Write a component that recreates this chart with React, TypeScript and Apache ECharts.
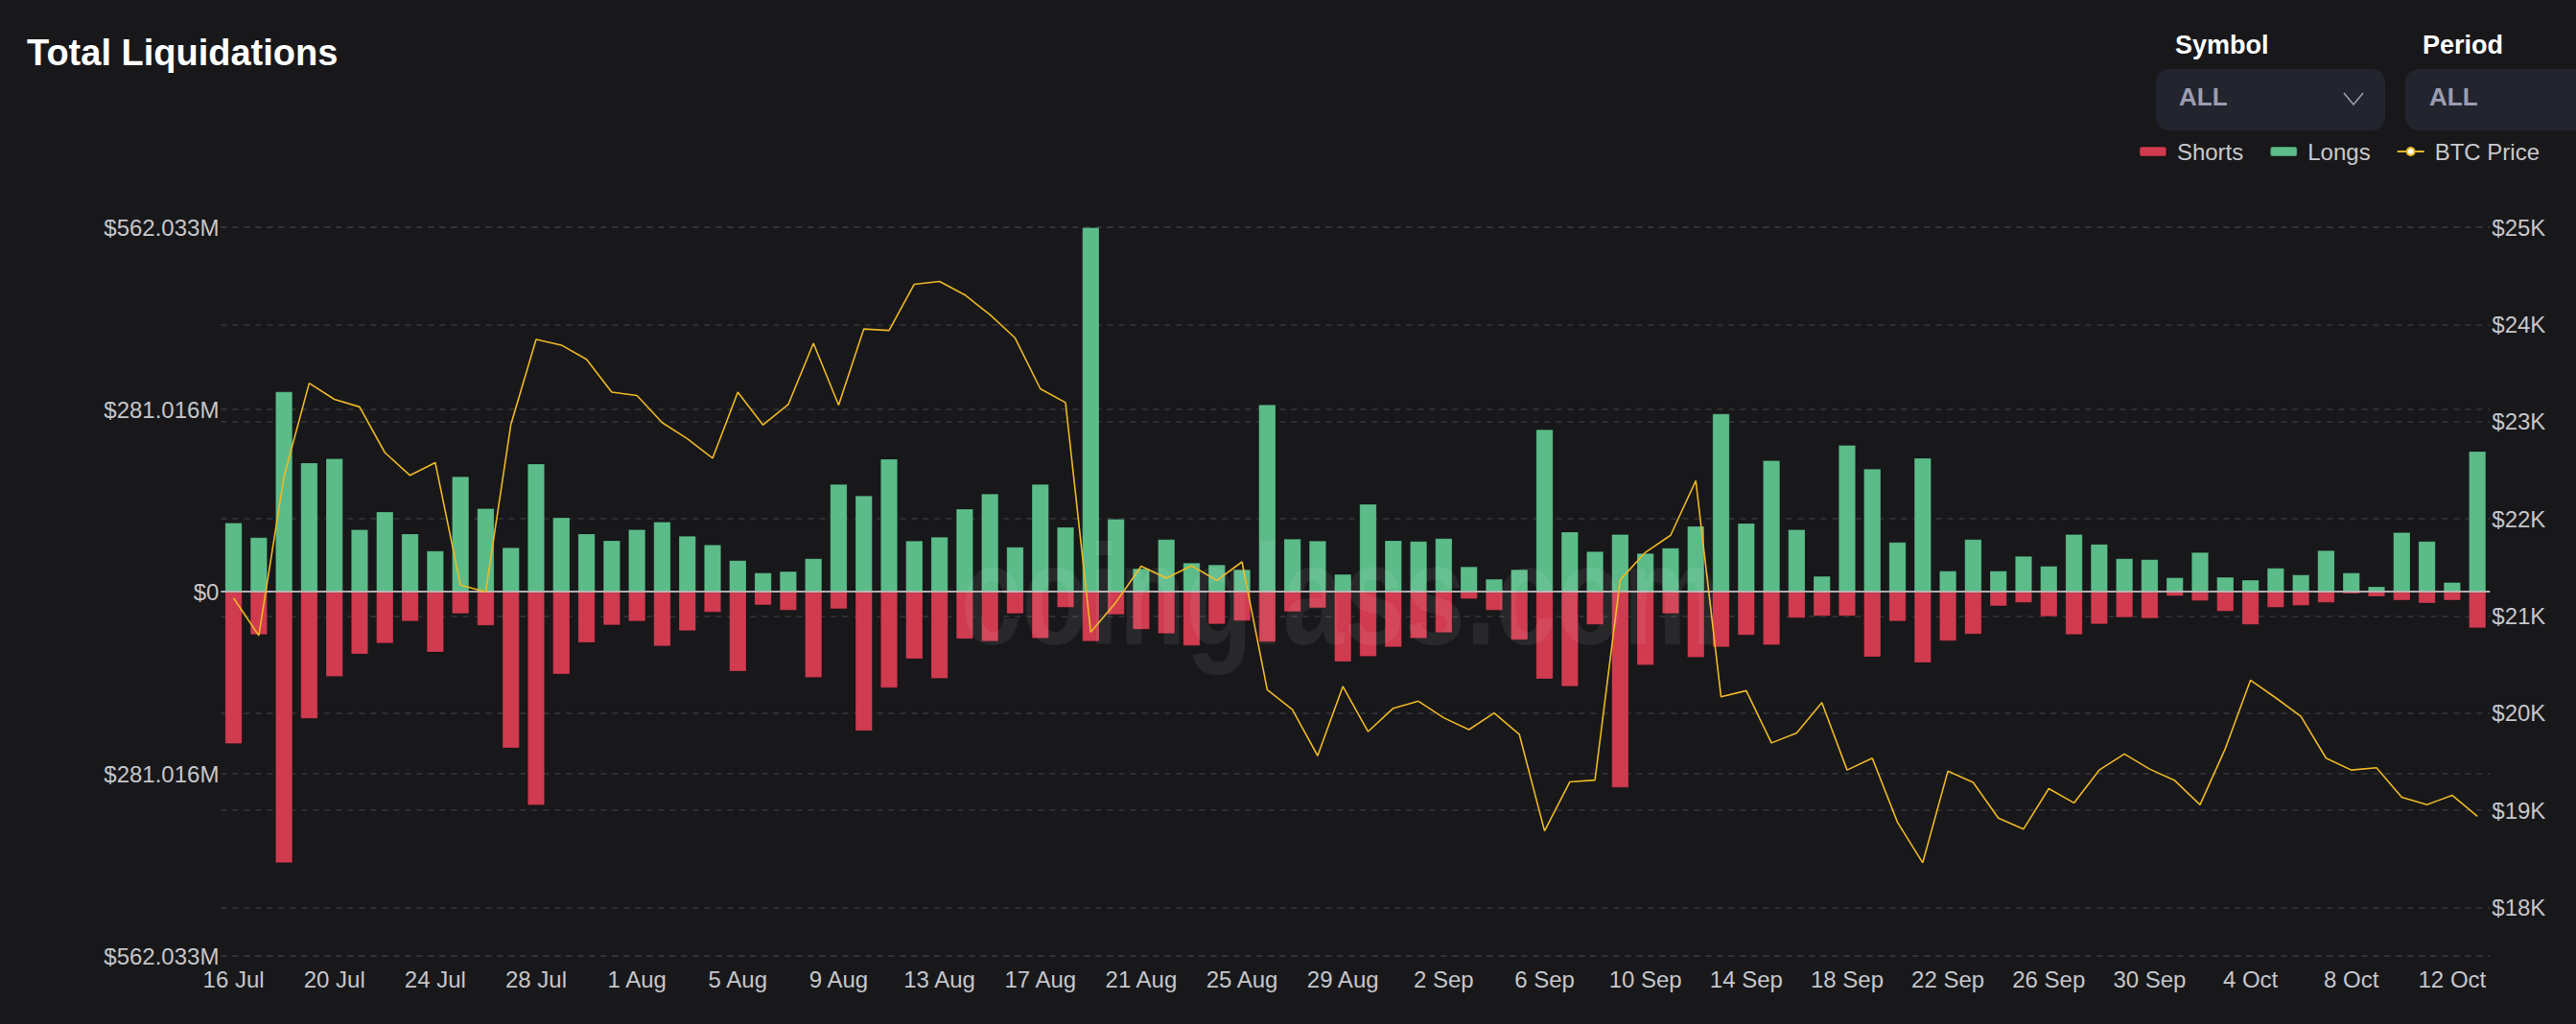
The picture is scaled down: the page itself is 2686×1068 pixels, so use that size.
import React, { useEffect, useRef } from 'react';
import * as echarts from 'echarts';

const categories = [
  '16 Jul', '17 Jul', '18 Jul', '19 Jul', '20 Jul', '21 Jul', '22 Jul', '23 Jul', '24 Jul', '25 Jul',
  '26 Jul', '27 Jul', '28 Jul', '29 Jul', '30 Jul', '31 Jul', '1 Aug', '2 Aug', '3 Aug', '4 Aug',
  '5 Aug', '6 Aug', '7 Aug', '8 Aug', '9 Aug', '10 Aug', '11 Aug', '12 Aug', '13 Aug', '14 Aug',
  '15 Aug', '16 Aug', '17 Aug', '18 Aug', '19 Aug', '20 Aug', '21 Aug', '22 Aug', '23 Aug', '24 Aug',
  '25 Aug', '26 Aug', '27 Aug', '28 Aug', '29 Aug', '30 Aug', '31 Aug', '1 Sep', '2 Sep', '3 Sep',
  '4 Sep', '5 Sep', '6 Sep', '7 Sep', '8 Sep', '9 Sep', '10 Sep', '11 Sep', '12 Sep', '13 Sep',
  '14 Sep', '15 Sep', '16 Sep', '17 Sep', '18 Sep', '19 Sep', '20 Sep', '21 Sep', '22 Sep', '23 Sep',
  '24 Sep', '25 Sep', '26 Sep', '27 Sep', '28 Sep', '29 Sep', '30 Sep', '1 Oct', '2 Oct', '3 Oct',
  '4 Oct', '5 Oct', '6 Oct', '7 Oct', '8 Oct', '9 Oct', '10 Oct', '11 Oct', '12 Oct', '13 Oct',
];

// Long liquidations, $M
const longs = [
  106.5, 83.8, 308.6, 199.1, 205.7, 96.2, 123.4, 89.6, 63.2, 177.8,
  128.6, 68.3, 197.6, 114.6, 89.6, 79.3, 96.2, 108.0, 86.0, 72.7,
  48.5, 29.4, 31.6, 51.4, 166.0, 148.4, 205.0, 78.6, 84.5, 127.8,
  151.3, 69.1, 166.0, 99.9, 562.033, 112.4, 36.0, 80.8, 44.8, 41.9,
  34.5, 288.7, 81.6, 78.6, 27.2, 135.2, 79.3, 77.9, 82.3, 38.9,
  19.8, 34.5, 250.5, 92.6, 62.4, 88.9, 59.5, 67.6, 101.4, 274.8,
  105.8, 202.8, 96.2, 24.2, 226.3, 189.6, 76.4, 206.5, 32.3, 80.8,
  32.3, 55.1, 39.7, 88.9, 73.5, 51.4, 50.0, 22.0, 61.0, 22.8,
  18.4, 36.7, 26.4, 63.9, 29.4, 8.1, 91.8, 77.9, 14.7, 216.7,
];

// Short liquidations, $M
const shorts = [
  235.1, 66.9, 418.8, 196.2, 131.5, 97.0, 80.1, 46.3, 94.0, 34.5,
  52.9, 241.7, 329.9, 127.8, 79.3, 52.2, 46.3, 84.5, 61.0, 32.3,
  123.4, 21.3, 29.4, 133.0, 27.2, 215.3, 149.1, 104.3, 134.5, 73.5,
  77.1, 34.5, 72.7, 25.0, 77.1, 36.0, 58.8, 65.4, 83.8, 50.7,
  45.6, 77.9, 31.6, 25.7, 108.7, 100.7, 86.0, 72.7, 63.9, 11.8,
  29.4, 74.9, 135.2, 146.9, 51.4, 302.7, 113.9, 34.5, 102.1, 86.0,
  67.6, 83.0, 41.1, 38.2, 38.2, 101.4, 46.3, 110.2, 76.4, 66.1,
  22.8, 17.6, 38.9, 66.9, 50.7, 40.4, 41.9, 7.3, 14.7, 30.9,
  51.4, 25.0, 22.0, 17.6, 3.7, 8.1, 14.0, 18.4, 14.0, 56.6,
];

// BTC price, USD
const btcPrice = [
  21184, 20797, 22432, 23395, 23229, 23151, 22681, 22446, 22578, 21316,
  21248, 22970, 23845, 23787, 23640, 23302, 23268, 22989, 22823, 22622,
  23302, 22965, 23175, 23806, 23170, 23953, 23938, 24413, 24442, 24305,
  24100, 23860, 23337, 23195, 20832, 21140, 21512, 21389, 21517, 21365,
  21556, 20240, 20034, 19560, 20274, 19809, 20049, 20122, 19951, 19829,
  20000, 19780, 18787, 19291, 19310, 21370, 21654, 21830, 22392, 20166,
  20230, 19692, 19795, 20108, 19413, 19535, 18875, 18459, 19403, 19286,
  18919, 18806, 19222, 19075, 19413, 19579, 19423, 19305, 19056, 19633,
  20338, 20157, 19966, 19535, 19413, 19437, 19134, 19056, 19154, 18938,
];

const liqAxisMax = 562.033;
const priceAxisMin = 17500;
const priceAxisMax = 25000;

const FONT = '"Liberation Sans", Arial, Helvetica, sans-serif';
const GRID_COLOR = '#37373b';
const LABEL_COLOR = '#c6c6ca';

export default function App() {
  const ref = useRef<HTMLDivElement>(null);

  useEffect(() => {
    document.body.style.margin = '0';
    document.body.style.background = '#18181b';
    if (!ref.current) return;
    const chart = echarts.init(ref.current, undefined, { renderer: 'svg' });

    const splitLine = {
      show: true,
      lineStyle: { color: GRID_COLOR, type: [6, 6], width: 1.5 },
    };

    const option: any = {
      animation: false,
      backgroundColor: '#18181b',
      textStyle: { fontFamily: FONT },
      grid: { left: 230.4, right: 89.7, top: 237, bottom: 71, containLabel: false },
      legend: {
        data: ['Shorts', 'Longs', 'BTC Price'],
        right: 38,
        top: 146,
        padding: 0,
        itemWidth: 28,
        itemHeight: 10,
        itemGap: 27,
        textStyle: { color: '#c9c9cd', fontSize: 24, fontFamily: FONT, padding: [0, 0, 0, 6] },
      },
      xAxis: {
        type: 'category',
        data: categories,
        boundaryGap: true,
        axisLine: { show: false },
        axisTick: { show: false },
        splitLine: { show: false },
        axisLabel: { interval: 3, color: LABEL_COLOR, fontSize: 24, margin: 12, fontFamily: FONT },
      },
      yAxis: [
        {
          type: 'value',
          position: 'left',
          min: -liqAxisMax,
          max: liqAxisMax,
          interval: liqAxisMax / 2,
          axisLine: { show: false },
          axisTick: { show: false },
          splitLine,
          axisLabel: {
            color: LABEL_COLOR,
            fontSize: 24,
            margin: 2,
            fontFamily: FONT,
            formatter: (v: number) =>
              Math.abs(v) < 1e-6
                ? '$0'
                : '$' + (Math.floor(Math.abs(v) * 1000 + 1e-6) / 1000).toFixed(3) + 'M',
          },
        },
        {
          type: 'value',
          position: 'right',
          min: priceAxisMin,
          max: priceAxisMax,
          splitNumber: 8,
          axisLine: { show: false },
          axisTick: { show: false },
          splitLine,
          axisLabel: {
            color: LABEL_COLOR,
            fontSize: 24,
            margin: 2,
            fontFamily: FONT,
            formatter: (v: number) => (Math.round(v) % 1000 === 0 ? '$' + Math.round(v) / 1000 + 'K' : ''),
          },
        },
      ],
      series: [
        {
          name: 'Shorts',
          type: 'bar',
          stack: 'liq',
          barWidth: '70%',
          data: shorts.map((v) => -v),
          itemStyle: { color: '#d03b4f', borderColor: 'rgba(0,0,0,0.22)', borderWidth: 1 },
          markLine: {
            silent: true,
            symbol: 'none',
            label: { show: false },
            lineStyle: { color: '#dedede', width: 1.6, type: 'solid' },
            data: [{ yAxis: 0 }],
          },
        },
        {
          name: 'Longs',
          type: 'bar',
          stack: 'liq',
          barWidth: '70%',
          data: longs,
          itemStyle: { color: '#5cbc89', borderColor: 'rgba(0,0,0,0.22)', borderWidth: 1 },
        },
        {
          name: 'BTC Price',
          type: 'line',
          yAxisIndex: 1,
          data: btcPrice,
          symbol: 'emptyCircle',
          symbolSize: 11,
          showSymbol: false,
          lineStyle: { color: '#eeb824', width: 1.6 },
          itemStyle: { color: '#eeb824' },
          z: 5,
        },
      ],
      graphic: [
        {
          type: 'text',
          x: 28,
          y: 55,
          style: {
            text: 'Total Liquidations',
            fill: '#ffffff',
            fontSize: 38,
            fontWeight: 'bold',
            fontFamily: FONT,
            verticalAlign: 'middle',
          },
        },
        {
          type: 'text',
          x: 2268,
          y: 47,
          style: { text: 'Symbol', fill: '#ffffff', fontSize: 27, fontWeight: 'bold', fontFamily: FONT, verticalAlign: 'middle' },
        },
        {
          type: 'text',
          x: 2526,
          y: 47,
          style: { text: 'Period', fill: '#ffffff', fontSize: 27, fontWeight: 'bold', fontFamily: FONT, verticalAlign: 'middle' },
        },
        {
          type: 'rect',
          shape: { x: 2248, y: 72, width: 239, height: 64, r: 14 },
          style: { fill: '#22242e' },
        },
        {
          type: 'rect',
          shape: { x: 2508, y: 72, width: 220, height: 64, r: 14 },
          style: { fill: '#22242e' },
        },
        {
          type: 'text',
          x: 2272,
          y: 101,
          style: { text: 'ALL', fill: '#9b9db0', fontSize: 26, fontWeight: 'bold', fontFamily: FONT, verticalAlign: 'middle' },
        },
        {
          type: 'text',
          x: 2533,
          y: 101,
          style: { text: 'ALL', fill: '#9b9db0', fontSize: 26, fontWeight: 'bold', fontFamily: FONT, verticalAlign: 'middle' },
        },
        {
          type: 'polyline',
          shape: { points: [[2444, 97], [2454, 109], [2464, 97]] },
          style: { stroke: '#9b9db0', lineWidth: 1.6, fill: 'none' },
        },
        {
          type: 'text',
          x: 1398,
          y: 620,
          scaleY: 1.3,
          z: 100,
          silent: true,
          style: {
            text: 'coinglass.com',
            fill: 'rgba(255,255,255,0.07)',
            fontSize: 114,
            fontWeight: 'bold',
            fontFamily: FONT,
            align: 'center',
            verticalAlign: 'middle',
          },
        },
      ],
    };

    chart.setOption(option);
    return () => chart.dispose();
  }, []);

  return <div ref={ref} style={{ width: 2686, height: 1068, background: '#18181b' }} />;
}
